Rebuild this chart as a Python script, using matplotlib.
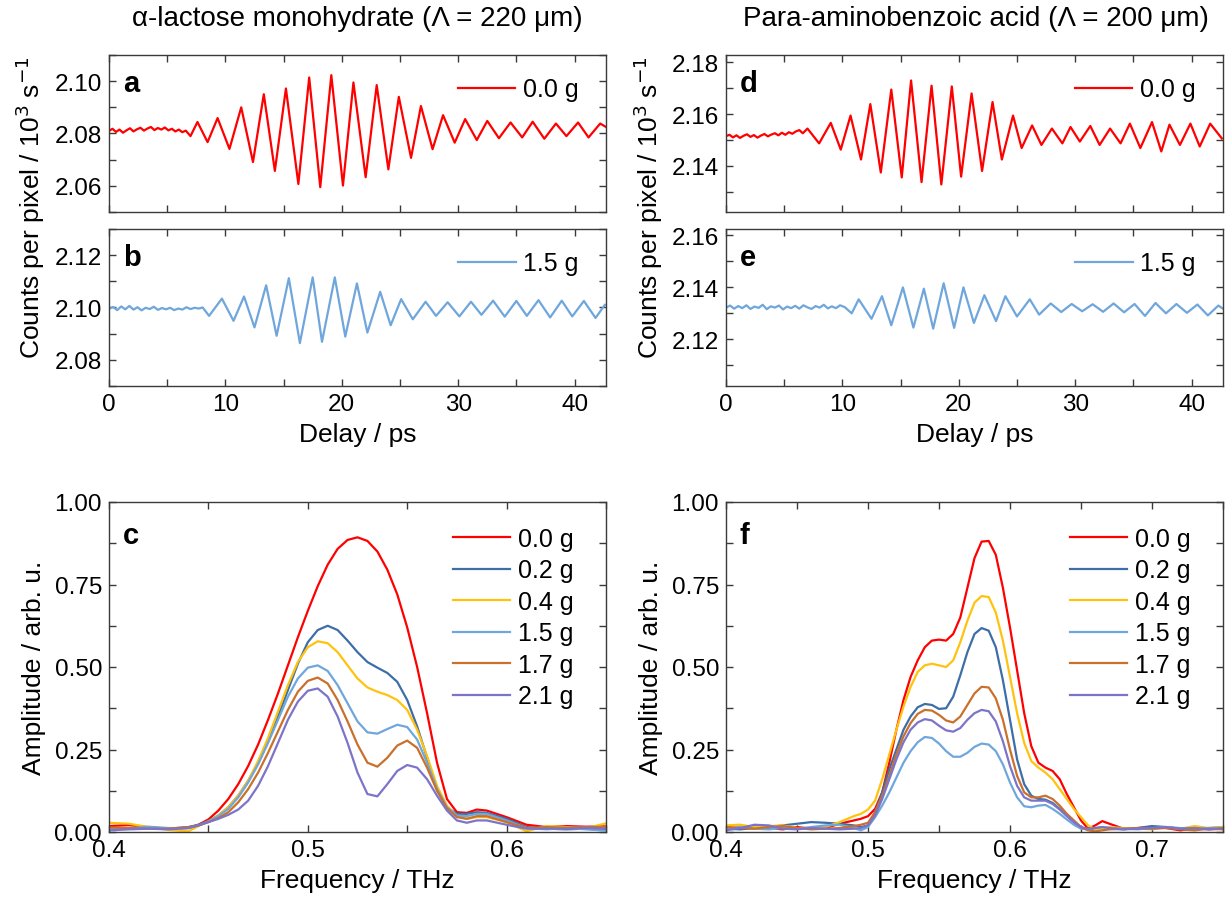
import matplotlib
matplotlib.use("Agg")
import matplotlib.pyplot as plt
from matplotlib.ticker import MultipleLocator, FormatStrFormatter

plt.rcParams['font.family'] = ['Liberation Sans', 'DejaVu Sans']

# ---- time-domain traces (delay in ps, counts in 10^3 s^-1) ----
a_t = [0.0, 0.3, 0.6, 0.9, 1.2, 1.5, 1.8, 2.1, 2.4, 2.7, 3.0, 3.3, 3.6, 3.9, 4.2, 4.5,
       4.8, 5.1, 5.4, 5.7, 6.0, 6.3, 6.6,
       7.0, 7.6, 8.47, 9.33, 10.35, 11.36, 12.37, 13.3, 14.25, 15.2, 16.27, 17.2, 18.15,
       19.1, 20.1, 21.0, 22.05, 23.0, 24.0, 24.9, 25.95, 26.8, 27.8, 28.7, 29.7, 30.6,
       31.6, 32.5, 33.5, 34.5, 35.5, 36.4, 37.4, 38.4, 39.3, 40.3, 41.2, 42.2, 42.7]
a_v = [2.0810, 2.0818, 2.0806, 2.0815, 2.0803, 2.0812, 2.0820, 2.0808, 2.0816, 2.0822,
       2.0811, 2.0819, 2.0825, 2.0813, 2.0821, 2.0815, 2.0823, 2.0812, 2.0818, 2.0808,
       2.0815, 2.0805, 2.0811,
       2.0790, 2.0844, 2.0767, 2.0859, 2.0741, 2.0900, 2.0691, 2.0950, 2.0657, 2.0972,
       2.0607, 2.1014, 2.0595, 2.1023, 2.0601, 2.0995, 2.0633, 2.0985, 2.0663, 2.0940,
       2.0707, 2.0905, 2.0740, 2.0870, 2.0765, 2.0855, 2.0775, 2.0848, 2.0782, 2.0842,
       2.0785, 2.0845, 2.0780, 2.0838, 2.0790, 2.0842, 2.0785, 2.0838, 2.0825]

b_t = [0.0, 0.35, 0.7, 1.05, 1.4, 1.75, 2.1, 2.45, 2.8, 3.15, 3.5, 3.85, 4.2, 4.55, 4.9,
       5.25, 5.6, 5.95, 6.3, 6.65, 7.0, 7.35, 7.7, 8.05,
       8.6, 9.7, 10.7, 11.6, 12.5, 13.5, 14.4, 15.45, 16.4, 17.5, 18.3, 19.4, 20.3, 21.3,
       22.2, 23.3, 24.2, 25.1, 26.1, 27.2, 28.1, 29.1, 30.1, 31.1, 32.0, 33.0, 34.0,
       35.0, 35.9, 36.9, 37.9, 38.9, 39.8, 40.8, 41.8, 42.6]
b_v = [2.0995, 2.1002, 2.0990, 2.1004, 2.0993, 2.1006, 2.0992, 2.1001, 2.0989, 2.0999,
       2.0994, 2.1003, 2.0991, 2.0998, 2.0993, 2.0999, 2.0990, 2.0996, 2.0992, 2.1001,
       2.0994, 2.0999, 2.0996, 2.1000,
       2.0968, 2.1034, 2.0949, 2.1042, 2.0924, 2.1085, 2.0892, 2.1112, 2.0864, 2.1115,
       2.0869, 2.1115, 2.0889, 2.1092, 2.0904, 2.1060, 2.0932, 2.1032, 2.0955, 2.1022,
       2.0968, 2.1020, 2.0966, 2.1022, 2.0972, 2.1026, 2.0965, 2.1025, 2.0968, 2.1028,
       2.0962, 2.1026, 2.0966, 2.1025, 2.0960, 2.1010]

d_t = [0.0, 0.3, 0.6, 0.9, 1.2, 1.5, 1.8, 2.1, 2.4, 2.7, 3.0, 3.3, 3.6, 3.9, 4.2, 4.5,
       4.8, 5.1, 5.4, 5.7, 6.0, 6.3, 6.6,
       7.0, 8.0, 9.0, 9.86, 10.7, 11.6, 12.4, 13.3, 14.2, 15.1, 15.9, 16.8, 17.66, 18.5,
       19.4, 20.2, 21.1, 22.0, 22.9, 23.7, 24.66, 25.4, 26.3, 27.1, 28.0, 28.9, 29.6,
       30.4, 31.3, 32.1, 33.0, 33.9, 34.7, 35.6, 36.6, 37.4, 38.1, 39.0, 39.9, 40.7,
       41.6, 42.6]
d_v = [2.1515, 2.1520, 2.1510, 2.1518, 2.1508, 2.1516, 2.1522, 2.1512, 2.1519, 2.1509,
       2.1517, 2.1523, 2.1514, 2.1521, 2.1526, 2.1518, 2.1528, 2.1520, 2.1530, 2.1524,
       2.1533, 2.1538, 2.1526,
       2.1544, 2.1487, 2.1566, 2.1463, 2.1594, 2.1425, 2.1638, 2.1375, 2.1694, 2.1356,
       2.1729, 2.1338, 2.1709, 2.1329, 2.1706, 2.1359, 2.1679, 2.1381, 2.1646, 2.1425,
       2.1594, 2.1469, 2.1556, 2.1481, 2.1544, 2.1487, 2.1550, 2.1494, 2.1554, 2.1481,
       2.1544, 2.1487, 2.1563, 2.1469, 2.1569, 2.1456, 2.1559, 2.1481, 2.1563, 2.1475,
       2.1563, 2.1506]

e_t = [0.0, 0.35, 0.7, 1.05, 1.4, 1.75, 2.1, 2.45, 2.8, 3.15, 3.5, 3.85, 4.2, 4.55, 4.9,
       5.25, 5.6, 5.95, 6.3, 6.65, 7.0, 7.35, 7.7, 8.05, 8.4, 8.75, 9.1, 9.45, 9.8, 10.2,
       10.8, 11.4, 12.5, 13.4, 14.2, 15.2, 16.1, 17.0, 17.8, 18.7, 19.6, 20.4, 21.3, 22.2,
       23.2, 24.0, 25.0, 26.1, 26.9, 27.9, 28.8, 29.7, 30.6, 31.5, 32.4, 33.3, 34.2, 35.1,
       36.0, 36.9, 37.8, 38.7, 39.6, 40.5, 41.4, 42.3, 42.7]
e_v = [2.1322, 2.1330, 2.1318, 2.1328, 2.1320, 2.1331, 2.1317, 2.1326, 2.1321, 2.1333,
       2.1316, 2.1327, 2.1322, 2.1330, 2.1315, 2.1326, 2.1320, 2.1329, 2.1318, 2.1331,
       2.1323, 2.1317, 2.1328, 2.1322, 2.1333, 2.1319, 2.1327, 2.1320, 2.1331, 2.1324,
       2.1300, 2.1354, 2.1279, 2.1366, 2.1254, 2.1400, 2.1245, 2.1395, 2.1241, 2.1416,
       2.1244, 2.1400, 2.1263, 2.1370, 2.1270, 2.1366, 2.1288, 2.1354, 2.1295, 2.1338,
       2.1305, 2.1336, 2.1308, 2.1335, 2.1306, 2.1338, 2.1304, 2.1336, 2.1290, 2.1340,
       2.1300, 2.1336, 2.1302, 2.1334, 2.1292, 2.1330, 2.1318]

# ---- spectra (frequency in THz, amplitude in arb. u.) ----
masses = ['0.0 g', '0.2 g', '0.4 g', '1.5 g', '1.7 g', '2.1 g']
colors = ['#ff0000', '#3d6ea6', '#ffc20e', '#6fa6dc', '#c9702c', '#7c74c8']

c_f = [0.40, 0.41, 0.42, 0.43, 0.44, 0.445, 0.45, 0.455, 0.46, 0.465, 0.47, 0.475, 0.48,
       0.485, 0.49, 0.495, 0.50, 0.505, 0.51, 0.515, 0.52, 0.525, 0.53, 0.535, 0.54,
       0.545, 0.55, 0.555, 0.56, 0.565, 0.57, 0.575, 0.58, 0.585, 0.59, 0.60, 0.61, 0.62,
       0.63, 0.64, 0.65]
c_00 = [.018, .021, .014, .010, .012, .022, .038, .065, .100, .145, .200, .265, .340,
        .420, .505, .590, .670, .745, .810, .858, .885, .893, .882, .850, .795, .720,
        .620, .500, .360, .210, .100, .060, .058, .068, .065, .045, .022, .015, .018,
        .016, .017]
c_02 = [.010, .012, .012, .010, .015, .022, .033, .050, .075, .110, .155, .210, .275,
        .350, .430, .510, .575, .612, .625, .612, .580, .545, .515, .498, .482, .455,
        .400, .320, .225, .130, .075, .055, .055, .060, .058, .040, .015, .010, .008,
        .010, .006]
c_04 = [.028, .025, .015, .006, .002, .018, .032, .050, .075, .110, .155, .215, .285,
        .365, .445, .515, .560, .578, .572, .545, .505, .465, .438, .425, .415, .400,
        .370, .310, .230, .140, .080, .048, .040, .045, .045, .030, .002, .018, .015,
        .012, .026]
c_15 = [.010, .012, .016, .012, .012, .020, .032, .048, .070, .105, .150, .205, .270,
        .340, .410, .465, .498, .505, .488, .445, .390, .335, .302, .298, .312, .325,
        .318, .280, .210, .130, .075, .050, .048, .055, .055, .035, .012, .008, .012,
        .008, .004]
c_17 = [.014, .012, .010, .010, .015, .020, .030, .042, .060, .090, .130, .180, .240,
        .305, .370, .425, .458, .468, .450, .400, .335, .265, .210, .198, .225, .262,
        .277, .255, .195, .125, .072, .045, .040, .048, .048, .030, .012, .015, .013,
        .015, .016]
c_21 = [.005, .008, .010, .008, .012, .020, .030, .040, .052, .068, .095, .140, .200,
        .270, .340, .395, .428, .435, .410, .350, .270, .180, .115, .108, .145, .185,
        .203, .195, .160, .110, .065, .035, .028, .035, .035, .022, .010, .010, .010,
        .012, .010]

f_f = [0.40, 0.41, 0.42, 0.43, 0.44, 0.45, 0.46, 0.47, 0.48, 0.49, 0.495, 0.50, 0.505,
       0.51, 0.515, 0.52, 0.525, 0.53, 0.535, 0.54, 0.545, 0.55, 0.555, 0.56, 0.565,
       0.57, 0.575, 0.58, 0.585, 0.59, 0.595, 0.60, 0.605, 0.61, 0.615, 0.62, 0.625,
       0.63, 0.635, 0.64, 0.645, 0.65, 0.655, 0.66, 0.665, 0.67, 0.68, 0.69, 0.70, 0.71,
       0.72, 0.73, 0.74, 0.75]
f_00 = [.015, .010, .018, .012, .008, .015, .010, .012, .025, .035, .040, .048, .070,
        .120, .210, .310, .400, .470, .520, .560, .580, .583, .580, .600, .650, .740,
        .830, .880, .882, .840, .740, .620, .490, .360, .260, .210, .195, .185, .160,
        .115, .075, .035, .010, .020, .033, .025, .010, .012, .015, .012, .005, .012,
        .008, .010]
f_02 = [.010, .008, .012, .015, .020, .025, .030, .028, .025, .020, .015, .020, .060,
        .120, .190, .250, .310, .350, .378, .388, .385, .373, .375, .410, .475, .545,
        .600, .618, .610, .560, .460, .340, .220, .145, .110, .100, .098, .088, .070,
        .050, .030, .012, .008, .010, .012, .010, .008, .012, .018, .015, .010, .008,
        .012, .015]
f_04 = [.020, .022, .015, .018, .020, .012, .010, .015, .030, .048, .055, .068, .095,
        .160, .235, .310, .380, .440, .485, .505, .510, .505, .500, .520, .575, .640,
        .695, .715, .712, .665, .580, .470, .360, .270, .215, .195, .180, .160, .130,
        .100, .070, .045, .020, .008, .010, .015, .012, .010, .008, .015, .010, .018,
        .012, .015]
f_15 = [.012, .015, .010, .008, .012, .010, .015, .020, .022, .012, .005, .015, .045,
        .080, .120, .165, .210, .245, .272, .288, .285, .268, .245, .228, .228, .240,
        .258, .268, .265, .245, .205, .150, .105, .078, .075, .080, .082, .070, .055,
        .038, .022, .010, .008, .012, .015, .012, .010, .008, .012, .015, .012, .010,
        .012, .010]
f_17 = [.015, .012, .010, .015, .018, .012, .008, .010, .012, .018, .022, .028, .060,
        .110, .170, .235, .290, .330, .358, .370, .368, .355, .338, .332, .350, .385,
        .420, .440, .438, .405, .340, .250, .170, .120, .105, .105, .110, .100, .080,
        .055, .035, .015, .005, .002, .005, .008, .010, .012, .010, .012, .008, .005,
        .010, .008]
f_21 = [.005, .012, .022, .020, .010, .008, .012, .010, .008, .010, .012, .020, .050,
        .100, .160, .220, .272, .310, .332, .342, .338, .322, .308, .304, .315, .340,
        .360, .370, .366, .335, .275, .200, .140, .105, .095, .095, .095, .085, .068,
        .048, .030, .015, .010, .012, .015, .012, .008, .010, .012, .015, .010, .012,
        .008, .012]

TICK_FS = 17.5
LAB_FS = 19
LEG_FS = 18
LETTER_FS = 21
SPINE = '#3a3a3a'


def style(ax):
    for s in ax.spines.values():
        s.set_color(SPINE)
        s.set_linewidth(1.0)
    ax.tick_params(which='both', direction='in', top=True, right=True,
                   length=5, width=1.0, color=SPINE, labelsize=TICK_FS, pad=5)


fig = plt.figure(figsize=(12.3, 9.04), dpi=100)
W, H = 1230.0, 904.0


def add_ax(x0, y0, x1, y1):
    return fig.add_axes([x0 / W, 1 - y1 / H, (x1 - x0) / W, (y1 - y0) / H])


ax_a = add_ax(109, 56, 606, 213)
ax_b = add_ax(109, 230, 606, 387)
ax_c = add_ax(109, 503, 606, 833)
ax_d = add_ax(726, 56, 1223, 213)
ax_e = add_ax(726, 230, 1223, 387)
ax_f = add_ax(726, 503, 1223, 833)

time_panels = [
    (ax_a, a_t, a_v, colors[0], masses[0], (2.05, 2.11), 'a'),
    (ax_b, b_t, b_v, colors[3], masses[3], (2.07, 2.13), 'b'),
    (ax_d, d_t, d_v, colors[0], masses[0], (2.1223, 2.1827), 'd'),
    (ax_e, e_t, e_v, colors[3], masses[3], (2.102, 2.1625), 'e'),
]
for ax, t, v, col, lab, yl, letter in time_panels:
    ax.plot(t, v, color=col, lw=1.6, label=lab)
    ax.set_xlim(0, 42.7)
    ax.set_ylim(*yl)
    ax.xaxis.set_major_locator(MultipleLocator(10))
    ax.xaxis.set_minor_locator(MultipleLocator(5))
    ax.yaxis.set_major_locator(MultipleLocator(0.02))
    ax.yaxis.set_minor_locator(MultipleLocator(0.01))
    ax.yaxis.set_major_formatter(FormatStrFormatter('%.2f'))
    style(ax)
    ax.text(0.028, 0.82, letter, transform=ax.transAxes, fontsize=LETTER_FS,
            fontweight='bold', va='center', ha='left')
    ax.legend(loc='upper right', frameon=False, fontsize=LEG_FS, handlelength=2.3,
              handletextpad=0.3, borderaxespad=0.4, bbox_to_anchor=(0.985, 0.985))

for ax in (ax_a, ax_d):
    ax.tick_params(labelbottom=False)
for ax in (ax_b, ax_e):
    ax.set_xlabel('Delay / ps', fontsize=LAB_FS, labelpad=5)

spec_panels = [
    (ax_c, c_f, [c_00, c_02, c_04, c_15, c_17, c_21], 0.65, 'c'),
    (ax_f, f_f, [f_00, f_02, f_04, f_15, f_17, f_21], 0.75, 'f'),
]
for ax, fr, series, xmax, letter in spec_panels:
    for ys, col, lab in zip(series, colors, masses):
        ax.plot(fr, ys, color=col, lw=1.6, label=lab)
    ax.set_xlim(0.4, xmax)
    ax.set_ylim(0, 1.0)
    ax.xaxis.set_major_locator(MultipleLocator(0.1))
    ax.xaxis.set_minor_locator(MultipleLocator(0.05))
    ax.xaxis.set_major_formatter(FormatStrFormatter('%.1f'))
    ax.yaxis.set_major_locator(MultipleLocator(0.25))
    ax.yaxis.set_minor_locator(MultipleLocator(0.125))
    ax.yaxis.set_major_formatter(FormatStrFormatter('%.2f'))
    style(ax)
    ax.set_xlabel('Frequency / THz', fontsize=LAB_FS, labelpad=5)
    ax.set_ylabel('Amplitude / arb. u.', fontsize=LAB_FS, labelpad=6)
    ax.text(0.028, 0.9, letter, transform=ax.transAxes, fontsize=LETTER_FS,
            fontweight='bold', va='center', ha='left')
    ax.legend(loc='upper right', frameon=False, fontsize=LEG_FS, handlelength=2.3,
              handletextpad=0.3, labelspacing=0.3, borderaxespad=0.4,
              bbox_to_anchor=(0.975, 0.985))

fig.text(30 / W, 1 - 208 / H, 'Counts per pixel / 10$^3$ s$^{-1}$', rotation=90,
         fontsize=LAB_FS, ha='center', va='center')
fig.text(648 / W, 1 - 208 / H, 'Counts per pixel / 10$^3$ s$^{-1}$', rotation=90,
         fontsize=LAB_FS, ha='center', va='center')

fig.text(357 / W, 1 - 19 / H, 'α-lactose monohydrate (Λ = 220 μm)', fontsize=20,
         ha='center', va='center')
fig.text(976 / W, 1 - 19 / H, 'Para-aminobenzoic acid (Λ = 200 μm)', fontsize=20,
         ha='center', va='center')

fig.savefig('out.png', dpi=100)
